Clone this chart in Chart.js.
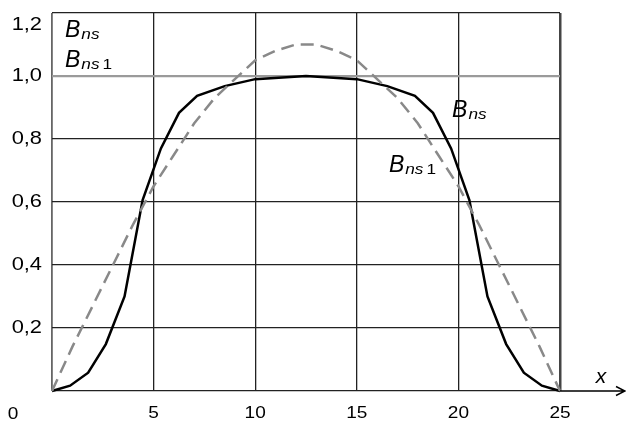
<!DOCTYPE html>
<html>
<head>
<meta charset="utf-8">
<script src="https://cdn.jsdelivr.net/npm/chart.js"></script>
<style>
  html, body { margin: 0; padding: 0; background: #fff; }
  #plot { display: block; }
</style>
</head>
<body>
<canvas id="plot" width="626" height="425"></canvas>
<script>
  // B_ns (solid black) - vertices are not evenly spaced in x
  var bnsX = [0, 0.89, 1.78, 2.65, 3.57, 4.46, 5.36, 6.25, 7.14, 8.5, 10, 12.5, 15, 16.5, 17.86, 18.75, 19.64, 20.54, 21.43, 22.35, 23.22, 24.11, 25];
  var bnsY = [0, 0.017, 0.058, 0.149, 0.30, 0.606, 0.77, 0.883, 0.937, 0.968, 0.99, 1.0, 0.99, 0.968, 0.937, 0.883, 0.77, 0.606, 0.30, 0.149, 0.058, 0.017, 0];

  // B_ns1 (dashed grey)
  var bns1X = [0, 1, 2, 3, 4, 5, 6, 7, 8, 9, 10, 11, 12, 13, 14, 15, 16, 17, 18, 19, 20, 21, 22, 23, 24, 25];
  var bns1Y = [0, 0.14, 0.27, 0.40, 0.53, 0.65, 0.75, 0.85, 0.93, 0.99, 1.05, 1.08, 1.10, 1.10, 1.08, 1.05, 0.99, 0.93, 0.85, 0.75, 0.65, 0.53, 0.40, 0.27, 0.14, 0];

  var xTicks = [5, 10, 15, 20, 25];
  var xTickLabels = ['5', '10', '15', '20', '25'];
  var yTicks = [0.2, 0.4, 0.6, 0.8, 1.0, 1.2];
  var yTickLabels = ['0,2', '0,4', '0,6', '0,8', '1,0', '1,2'];

  var FONT = '"Liberation Sans", Arial, sans-serif';

  function toPoints(xs, ys) {
    return xs.map(function (x, i) { return { x: x, y: ys[i] }; });
  }

  // text stretched a little sideways, like the rest of the figure
  function wideText(ctx, str, x, y, sx, align) {
    ctx.save();
    ctx.translate(x, y);
    ctx.scale(sx, 1);
    ctx.textAlign = align || 'left';
    ctx.fillText(str, 0, 0);
    ctx.restore();
  }

  // B with italic "ns" subscript, optionally followed by an upright "1"
  function drawSymbol(ctx, x, y, withOne) {
    ctx.textBaseline = 'alphabetic';
    ctx.font = 'italic 23px ' + FONT;
    ctx.fillText('B', x, y);
    var w = ctx.measureText('B').width + 1;
    ctx.font = 'italic 15px ' + FONT;
    wideText(ctx, 'ns', x + w, y + 2, 1.15);
    if (withOne) {
      var w2 = ctx.measureText('ns').width * 1.15 + 3;
      ctx.font = '15px ' + FONT;
      wideText(ctx, '1', x + w + w2, y + 2, 1.15);
    }
  }

  var decorations = {
    id: 'decorations',
    afterDraw: function (chart) {
      var ctx = chart.ctx;
      var xs = chart.scales.x, ys = chart.scales.y;
      var area = chart.chartArea;
      ctx.save();
      ctx.fillStyle = '#000';

      // y tick labels
      ctx.font = '19px ' + FONT;
      ctx.textBaseline = 'middle';
      yTicks.forEach(function (v, i) {
        var py = Math.max(ys.getPixelForValue(v), area.top + 12);
        wideText(ctx, yTickLabels[i], area.left - 10, py, 1.15, 'right');
      });

      // x tick labels and the origin
      ctx.font = '17px ' + FONT;
      xTicks.forEach(function (v, i) {
        wideText(ctx, xTickLabels[i], xs.getPixelForValue(v), area.bottom + 22, 1.12, 'center');
      });
      wideText(ctx, '0', 13, area.bottom + 23, 1.12, 'center');

      // x axis runs past the grid and ends in an open arrow
      ctx.strokeStyle = '#000';
      ctx.lineWidth = 1.5;
      ctx.beginPath();
      ctx.moveTo(area.right, area.bottom);
      ctx.lineTo(625, area.bottom);
      ctx.moveTo(616, area.bottom - 4.5);
      ctx.lineTo(625, area.bottom);
      ctx.lineTo(616, area.bottom + 4.5);
      ctx.stroke();

      ctx.textBaseline = 'alphabetic';
      ctx.font = 'italic 21px ' + FONT;
      ctx.textAlign = 'center';
      ctx.fillText('x', 601, area.bottom - 8);
      ctx.textAlign = 'left';

      // curve names
      drawSymbol(ctx, xs.getPixelForValue(0.64), ys.getPixelForValue(1.123), false);
      drawSymbol(ctx, xs.getPixelForValue(0.64), ys.getPixelForValue(1.03), true);
      drawSymbol(ctx, xs.getPixelForValue(19.69), ys.getPixelForValue(0.869), false);
      drawSymbol(ctx, xs.getPixelForValue(16.58), ys.getPixelForValue(0.696), true);

      ctx.restore();
    }
  };

  var ctx = document.getElementById('plot').getContext('2d');
  var chart = new Chart(ctx, {
    type: 'scatter',
    data: {
      datasets: [
        {
          label: 'Bns1',
          data: toPoints(bns1X, bns1Y),
          showLine: true,
          borderColor: '#898989',
          borderWidth: 2.5,
          borderDash: [13, 7],
          pointRadius: 0,
          tension: 0,
          clip: false,
        },
        {
          label: 'Bns',
          data: toPoints(bnsX, bnsY),
          showLine: true,
          borderColor: '#000',
          borderWidth: 2.5,
          pointRadius: 0,
          tension: 0,
          clip: false,
        },
      ],
    },
    options: {
      responsive: false,
      animation: false,
      devicePixelRatio: 1,
      layout: { padding: { left: 52, right: 66, top: 13, bottom: 34 } },
      plugins: { legend: { display: false }, tooltip: { enabled: false } },
      scales: {
        x: {
          type: 'linear',
          min: 0,
          max: 25,
          border: { display: false },
          ticks: { stepSize: 5, display: false },
          grid: {
            drawTicks: false,
            color: function (c) {
              if (c.tick.value === 0) return '#666';
              if (c.tick.value === 25) return '#444';
              return '#222';
            },
            lineWidth: function (c) {
              if (c.tick.value === 0) return 1.8;
              if (c.tick.value === 25) return 2.5;
              return 1.3;
            },
          },
        },
        y: {
          min: 0,
          max: 1.2,
          border: { display: false },
          ticks: { stepSize: 0.2, display: false },
          grid: {
            drawTicks: false,
            color: function (c) {
              return Math.abs(c.tick.value - 1) < 1e-6 ? '#9a9a9a' : '#222';
            },
            lineWidth: function (c) {
              return Math.abs(c.tick.value - 1) < 1e-6 ? 2.2 : 1.3;
            },
          },
        },
      },
    },
    plugins: [decorations],
  });
</script>
</body>
</html>
